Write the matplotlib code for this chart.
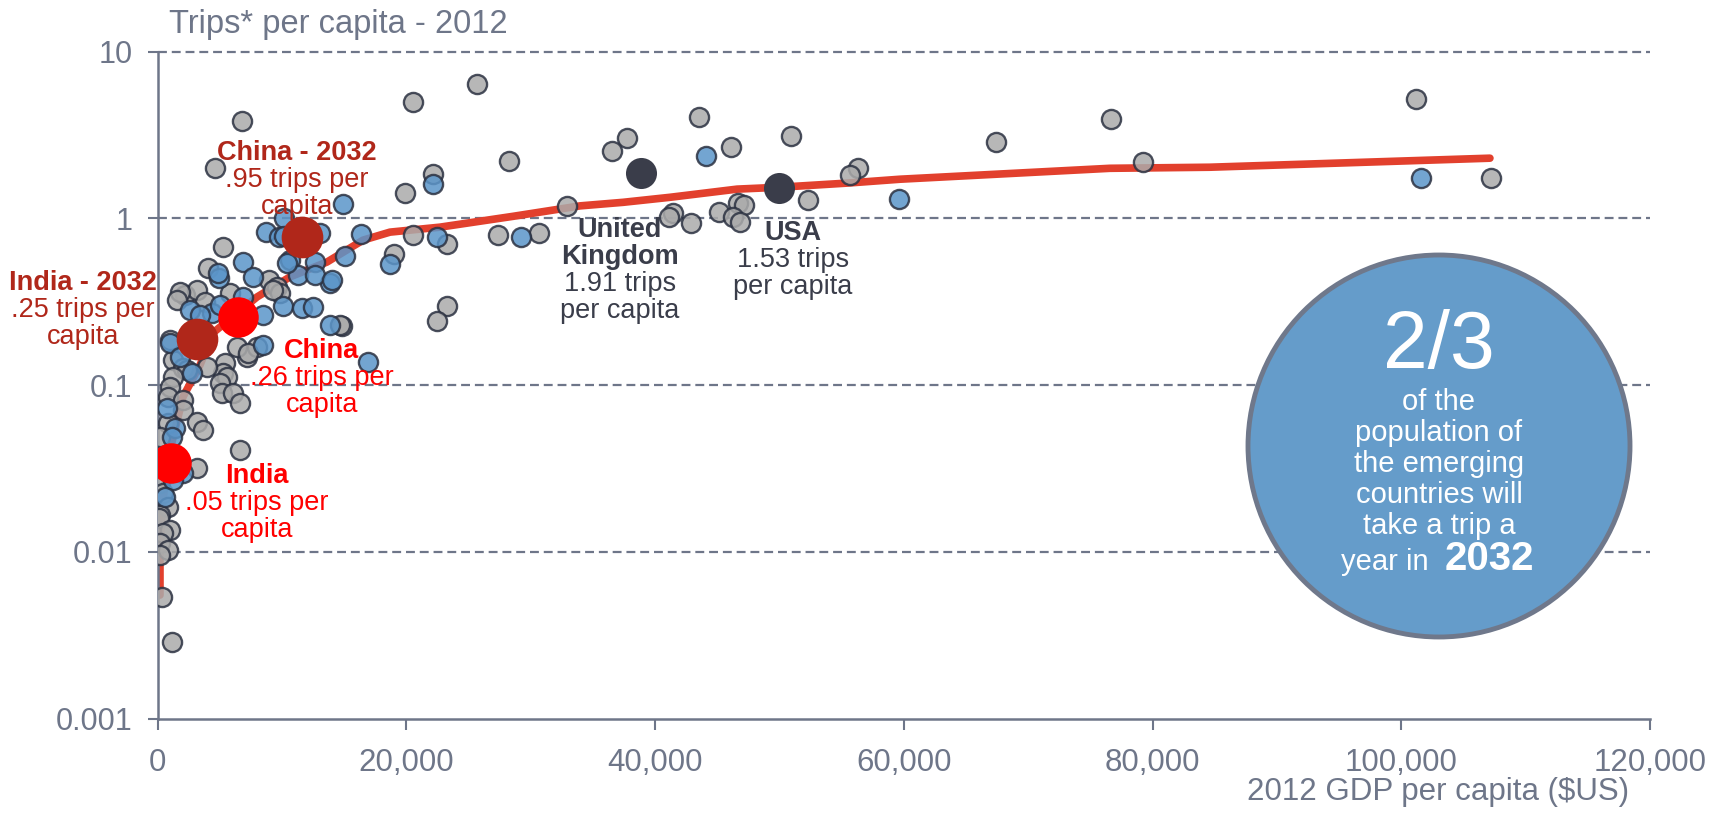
import matplotlib
matplotlib.use("Agg")
import matplotlib.pyplot as plt
from matplotlib.patches import Ellipse

plt.rcParams['font.family'] = ['Liberation Sans', 'DejaVu Sans']

# ---- data ----
gray_x = [25690, 20540, 6790, 4620, 28260, 22150, 19900, 20540, 23280, 27380,
          30670, 32920, 19020, 23280, 22470, 14830, 14670, 37750, 36540, 43540,
          46110, 50930, 56320, 55680, 52300, 41450, 41120, 42890, 45150, 46670,
          47150, 46270, 46830, 67420, 76670, 79230, 101180, 107210,
          5270, 4060, 8960, 9610, 9850, 2210, 3180, 3820, 1810, 1570, 5830, 9290,
          1000, 1250, 7200, 8000, 6390, 5430, 5270, 3980, 2050, 2370, 1250, 5590,
          7280, 5030, 5190, 6070, 6630, 1000, 840, 2050, 2050, 3180, 3660, 840,
          200, 6630, 3180, 200, 440, 840, 200, 100, 1000, 440, 200, 840, 200,
          360, 1170]
gray_y = [6.40, 4.99, 3.84, 2.02, 2.21, 1.86, 1.42, 0.794, 0.702, 0.794,
          0.822, 1.19, 0.611, 0.298, 0.243, 0.226, 0.229, 3.03, 2.54, 4.06,
          2.68, 3.12, 2.02, 1.83, 1.29, 1.08, 1.02, 0.94, 1.09, 1.24,
          1.20, 1.02, 0.95, 2.87, 3.94, 2.18, 5.20, 1.75,
          0.673, 0.504, 0.427, 0.387, 0.357, 0.347, 0.372, 0.315, 0.361, 0.324, 0.357, 0.372,
          0.186, 0.141, 0.147, 0.169, 0.169, 0.136, 0.118, 0.128, 0.127, 0.123, 0.112, 0.112,
          0.156, 0.103, 0.0896, 0.0896, 0.0781, 0.097, 0.0849, 0.0814, 0.071, 0.060, 0.0538, 0.0593,
          0.0488, 0.0408, 0.0318, 0.0259, 0.0225, 0.0186, 0.0166, 0.016, 0.0135, 0.013, 0.0113, 0.0103, 0.0096,
          0.00535, 0.00288]

blue_x = [15080, 22150, 14910, 16360, 22470, 29230, 18690, 13870, 13870, 44100,
          59620, 101580, 8720, 9770, 10170, 13070, 6870, 4940, 4860, 7680,
          10650, 12660, 11300, 12660, 14030, 10410, 2610, 4380, 3420, 5030,
          6870, 8480, 10090, 11620, 12500, 1000, 1810, 2770, 8480, 16920,
          760, 1400, 2050, 1250, 600, 1170, 10170]
blue_y = [0.595, 1.61, 1.22, 0.811, 0.773, 0.773, 0.532, 0.409, 0.229, 2.37,
          1.31, 1.75, 0.834, 0.773, 1.0, 0.822, 0.547, 0.439, 0.470, 0.445,
          0.562, 0.547, 0.457, 0.457, 0.427, 0.540, 0.282, 0.270, 0.263, 0.302,
          0.338, 0.263, 0.298, 0.290, 0.294, 0.179, 0.147, 0.118, 0.175, 0.137,
          0.0728, 0.0553, 0.0297, 0.027, 0.0213, 0.0488, 0.783]

trend_x = [200, 200, 440, 1005, 2050, 3420, 4460, 8000, 10650, 13630, 16520, 18690,
           22710, 28580, 33970, 37430, 41210, 46600, 50050, 55440, 59700, 76570,
           84610, 107130]
trend_y = [0.0055, 0.0109, 0.0205, 0.0408, 0.085, 0.132, 0.206, 0.338, 0.446, 0.548,
           0.741, 0.828, 0.887, 1.03, 1.19, 1.25, 1.34, 1.50, 1.54, 1.63, 1.72,
           2.00, 2.03, 2.30]

# highlighted countries: 2012 values and 2032 projections
now_names = ['India', 'China']
now_x = [1085, 6470]
now_y = [0.034, 0.256]
proj_names = ['India - 2032', 'China - 2032']
proj_x = [3170, 11616]
proj_y = [0.189, 0.773]
ref_names = ['United Kingdom', 'USA']
ref_x = [38870, 49950]
ref_y = [1.87, 1.52]

y_ticks = [0.001, 0.01, 0.1, 1, 10]
y_labels = ['0.001', '0.01', '0.1', '1', '10']
x_ticks = [0, 20000, 40000, 60000, 80000, 100000, 120000]
x_labels = ['0', '20,000', '40,000', '60,000', '80,000', '100,000', '120,000']

# ---- colours ----
axis_col = '#6e7689'
gray_fill = '#ababab'
blue_fill = '#5b95c9'
edge_col = '#2b3141'
red = '#ff0000'
dark_red = '#b0271a'
navy = '#3a3d4a'

W, H = 1728, 813
fig = plt.figure(figsize=(W / 100, H / 100), dpi=100)
ax = fig.add_axes([157.5 / W, 1 - 718.5 / H, 1492.5 / W, 666.7 / H])

ax.set_yscale('log')
ax.set_xlim(0, 120000)
ax.set_ylim(0.001, 10)

# dashed gridlines
for yv in y_ticks[1:]:
    ax.axhline(yv, color=axis_col, lw=1.6, ls=(0, (4, 2.2)), zorder=1, clip_on=False)

ax.plot(trend_x, trend_y, color='#e2402d', lw=5.5, solid_capstyle='round', zorder=2)

ax.scatter(gray_x, gray_y, s=190, c=gray_fill, edgecolors=edge_col, linewidths=1.7,
           alpha=0.85, zorder=3)
ax.scatter(blue_x, blue_y, s=190, c=blue_fill, edgecolors=edge_col, linewidths=1.7,
           alpha=0.85, zorder=3)

ax.scatter(now_x, now_y, s=850, c=red, linewidths=0, zorder=5)
ax.scatter(proj_x, proj_y, s=900, c=dark_red, linewidths=0, zorder=5)
ax.scatter(ref_x, ref_y, s=500, c=navy, linewidths=0, zorder=5)

# axes styling
for s in ['top', 'right']:
    ax.spines[s].set_visible(False)
for s in ['left', 'bottom']:
    ax.spines[s].set_color(axis_col)
    ax.spines[s].set_linewidth(1.8)
ax.minorticks_off()
ax.set_yticks(y_ticks)
ax.set_yticklabels(y_labels)
ax.set_xticks(x_ticks)
ax.set_xticklabels(x_labels)
ax.tick_params(axis='y', length=7, width=1.5, color=axis_col, labelcolor=axis_col,
               labelsize=22, pad=11)
ax.tick_params(axis='x', length=8, width=1.5, color=axis_col, labelcolor=axis_col,
               labelsize=22.5, pad=13)

fig.text(169 / W, 1 - 24 / H, 'Trips* per capita - 2012', color=axis_col,
         fontsize=23.5, ha='left', va='center')
fig.text(1629 / W, 1 - 792 / H, '2012 GDP per capita ($US)', color=axis_col,
         fontsize=22.5, ha='right', va='center')


# labels: bold header lines then regular lines
def label(x, y, bold, normal, color):
    lines = [(t, 'bold') for t in bold] + [(t, 'normal') for t in normal]
    for i, (t, w) in enumerate(lines):
        ax.annotate(t, (x, y), xytext=(0, -2 - 19.5 * i), textcoords='offset points',
                    ha='center', va='center', fontsize=19.5, fontweight=w,
                    color=color, zorder=6, annotation_clip=False)


label(11200, 2.57, ['China - 2032'], ['.95 trips per', 'capita'], dark_red)
label(-5990, 0.427, ['India - 2032'], ['.25 trips per', 'capita'], dark_red)
label(13220, 0.167, ['China'], ['.26 trips per', 'capita'], red)
label(8000, 0.0297, ['India'], ['.05 trips per', 'capita'], red)
label(37190, 0.888, ['United', 'Kingdom'], ['1.91 trips', 'per capita'], navy)
label(51100, 0.852, ['USA'], ['1.53 trips', 'per capita'], navy)

# call-out circle
cx, cy, r = 1439, 446, 191
circ = Ellipse((cx / W, 1 - cy / H), 2 * r / W, 2 * r / H, transform=fig.transFigure,
               facecolor='#659cca', edgecolor='#6f788b', lw=3.5, zorder=10)
fig.patches.append(circ)
fig.text(cx / W, 1 - 368 / H, '2/3', color='white', fontsize=58, ha='center',
         va='baseline', zorder=11)
circle_lines = ['of the', 'population of', 'the emerging', 'countries will', 'take a trip a']
circle_base = [410, 441, 472, 503, 534]
for t, yy in zip(circle_lines, circle_base):
    fig.text(cx / W, 1 - yy / H, t, color='white', fontsize=21, ha='center',
             va='baseline', zorder=11)
fig.text(1437 / W, 1 - 570 / H, 'year in ', color='white', fontsize=21, ha='right',
         va='baseline', zorder=11)
fig.text(1445 / W, 1 - 570 / H, '2032', color='white', fontsize=29, fontweight='bold',
         ha='left', va='baseline', zorder=11)

fig.savefig('out.png', dpi=100)
